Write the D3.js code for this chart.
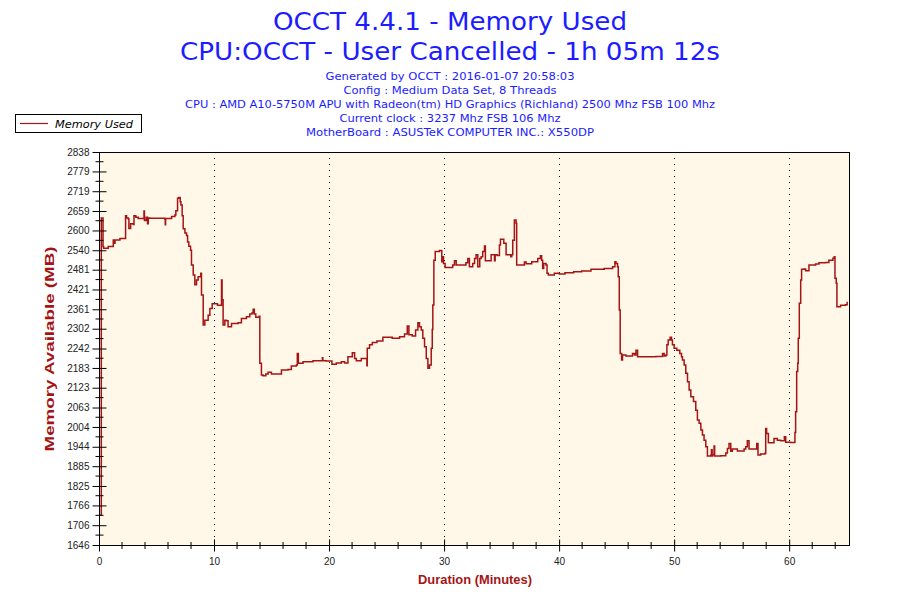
<!DOCTYPE html>
<html><head><meta charset="utf-8">
<script src="https://cdn.jsdelivr.net/npm/d3@7"></script>
<style>body{margin:0;background:#fff}svg{display:block}</style>
</head><body><svg id="c" width="900" height="600"></svg>
<script>
const titleLines = ["OCCT 4.4.1 - Memory Used", "CPU:OCCT - User Cancelled - 1h 05m 12s"];
const subtitleLines = [
  "Generated by OCCT : 2016-01-07 20:58:03",
  "Config : Medium Data Set, 8 Threads",
  "CPU : AMD A10-5750M APU with Radeon(tm) HD Graphics (Richland) 2500 Mhz FSB 100 Mhz",
  "Current clock : 3237 Mhz FSB 106 Mhz",
  "MotherBoard : ASUSTeK COMPUTER INC.: X550DP"
];
const seriesName = "Memory Used";
const yTickLabels = [1646,1706,1766,1825,1885,1944,2004,2063,2123,2183,2242,2302,2361,2421,2481,2540,2600,2659,2719,2779,2838];
const xTickLabels = [0,10,20,30,40,50,60];
const xMax = 65.2;
const minutes = [0.1,0.2,0.35,0.40,0.75,0.80,1.16,1.24,1.30,1.39,1.74,1.82,2.26,2.31,2.40,2.55,2.60,2.75,2.98,3.04,3.20,3.41,3.85,3.91,3.95,4.10,4.22,4.28,4.43,5.44,5.73,5.76,5.79,6.31,6.60,6.68,6.83,6.94,7.06,7.12,7.23,7.32,7.47,7.61,7.70,7.81,7.96,8.04,8.19,8.33,8.48,8.62,8.85,8.91,9.06,9.20,9.49,9.64,9.84,10.22,10.30,10.59,10.65,10.70,10.79,10.94,11.08,11.22,11.52,12.09,12.38,12.82,13.11,13.30,13.40,13.50,13.63,13.92,13.98,14.05,14.12,14.26,14.50,14.70,14.99,15.71,15.86,16.43,16.72,17.16,17.24,17.33,17.74,18.60,19.38,19.42,19.46,19.76,20.20,20.25,20.63,21.07,21.35,21.64,22.02,22.22,22.37,22.80,23.27,23.29,23.32,23.52,23.76,24.16,24.68,25.49,26.13,26.56,26.80,26.94,27.23,27.52,27.72,27.86,28.01,28.15,28.30,28.45,28.59,28.73,28.88,28.97,29.02,29.11,29.23,29.60,29.75,29.80,29.88,29.95,30.09,30.61,30.75,30.90,31.05,31.77,31.90,32.06,32.20,32.49,32.65,32.78,32.93,33.10,33.22,33.36,33.51,33.59,33.80,34.09,34.38,34.44,34.61,34.81,34.90,35.19,35.39,35.68,35.80,35.88,35.97,36.11,36.26,36.31,36.69,36.98,37.13,37.62,38.14,38.37,38.48,38.57,38.66,38.86,38.95,39.06,39.58,40.02,40.51,41.26,41.96,42.77,43.92,44.65,44.85,44.94,45.08,45.14,45.23,45.31,45.43,45.51,45.81,46.38,46.55,46.68,46.82,47.40,48.41,48.99,49.13,49.28,49.37,49.48,49.65,49.77,49.85,50.00,50.23,50.49,50.64,50.72,50.87,51.01,51.16,51.30,51.45,51.68,51.88,52.02,52.17,52.32,52.46,52.60,52.75,52.89,53.18,53.24,53.30,53.35,53.47,53.52,54.05,54.49,54.63,54.77,54.92,55.06,55.50,55.93,56.08,56.22,56.36,56.51,56.88,57.18,57.29,57.52,57.81,57.90,57.96,58.04,58.19,58.68,58.97,59.26,59.58,59.70,60.13,60.42,60.50,60.56,60.65,60.74,60.79,60.88,61.00,61.08,61.30,61.43,61.72,62.30,62.59,63.17,63.45,63.80,63.92,63.98,64.09,64.15,64.47,64.90,65.04];
const memoryMB = [1737,2638,2551,2546,2546,2551,2551,2571,2561,2571,2571,2576,2576,2645,2638,2635,2606,2620,2618,2645,2640,2636,2636,2659,2630,2640,2620,2638,2637,2637,2634,2617,2636,2642,2647,2660,2698,2700,2687,2677,2645,2605,2592,2585,2565,2552,2540,2495,2465,2435,2450,2460,2470,2404,2313,2328,2343,2363,2378,2378,2373,2373,2450,2390,2313,2328,2326,2308,2318,2320,2333,2338,2347,2350,2361,2347,2337,2340,2197,2197,2162,2159,2165,2170,2165,2165,2177,2178,2189,2192,2227,2197,2202,2205,2205,2214,2205,2204,2204,2194,2198,2202,2198,2217,2229,2212,2205,2212,2212,2190,2243,2253,2260,2265,2276,2273,2278,2286,2310,2284,2280,2298,2320,2308,2298,2273,2247,2212,2182,2192,2243,2300,2374,2510,2536,2539,2539,2505,2520,2500,2488,2488,2495,2508,2495,2495,2502,2515,2490,2500,2515,2526,2490,2515,2520,2536,2553,2508,2508,2526,2508,2526,2524,2556,2573,2561,2526,2526,2520,2526,2570,2632,2622,2495,2495,2504,2499,2505,2515,2523,2510,2485,2500,2495,2470,2465,2470,2468,2472,2475,2477,2482,2485,2490,2505,2500,2490,2460,2359,2227,2207,2222,2219,2227,2222,2237,2217,2217,2218,2227,2219,2222,2253,2268,2276,2268,2253,2243,2237,2227,2217,2207,2192,2167,2141,2116,2096,2081,2055,2025,2015,1995,1980,1964,1944,1916,1918,1935,1916,1920,1946,1916,1917,1925,1939,1954,1930,1937,1931,1931,1937,1944,1962,1937,1937,1954,1919,1922,1922,1924,1999,1984,1956,1969,1964,1962,1974,1958,1957,1957,1987,2050,2172,2197,2273,2379,2450,2482,2483,2478,2495,2498,2502,2503,2510,2516,2520,2455,2440,2369,2373,2375,2384];

const svg = d3.select("#c");
const L = 99, R = 849, T = 152, B = 545;
const x = d3.scaleLinear().domain([0, xMax]).range([L, R]);
const y = d3.scaleLinear().domain([yTickLabels[0], yTickLabels[yTickLabels.length-1]]).range([B, T]);
const blue = "#1c1cff", red = "#a51414";

// titles
const titleW = [354, 540];
titleLines.forEach((t, i) => {
  svg.append("text").attr("x", 450).attr("y", 30 + i*30).attr("text-anchor", "middle")
    .attr("font-family", "DejaVu Sans, Verdana, sans-serif").attr("font-size", 25).attr("fill", blue)
    .attr("textLength", titleW[i]).attr("lengthAdjust", "spacingAndGlyphs").text(t);
});
const subW = [249, 213, 530, 221, 288];
subtitleLines.forEach((t, i) => {
  svg.append("text").attr("x", 450).attr("y", 80 + i*14).attr("text-anchor", "middle")
    .attr("font-family", "DejaVu Sans, Verdana, sans-serif").attr("font-size", 11).attr("fill", blue)
    .attr("textLength", subW[i]).attr("lengthAdjust", "spacingAndGlyphs").text(t);
});

// legend
svg.append("rect").attr("x", 15.5).attr("y", 114.5).attr("width", 126).attr("height", 18)
  .attr("fill", "#fff").attr("stroke", "#000").attr("stroke-width", 1);
svg.append("line").attr("x1", 20).attr("x2", 48).attr("y1", 123.5).attr("y2", 123.5)
  .attr("stroke", red).attr("stroke-width", 1.2);
svg.append("text").attr("x", 55).attr("y", 127.5).attr("font-family", "DejaVu Sans, Verdana, sans-serif")
  .attr("font-size", 11).attr("font-style", "italic").attr("fill", "#000")
  .attr("textLength", 78).attr("lengthAdjust", "spacingAndGlyphs").text(seriesName);

// plot background
svg.append("rect").attr("x", L).attr("y", T).attr("width", R - L).attr("height", B - T).attr("fill", "#fff8e8");

// vertical dotted grid
svg.append("g").selectAll("line").data(xTickLabels.filter(d => d > 0)).join("line")
  .attr("x1", d => Math.round(x(d)) + 0.5).attr("x2", d => Math.round(x(d)) + 0.5)
  .attr("y1", T).attr("y2", B).attr("stroke", "#000").attr("stroke-width", 1).attr("stroke-dasharray", "1,5");

// frame
svg.append("rect").attr("x", L + 0.5).attr("y", T + 0.5).attr("width", R - L).attr("height", B - T)
  .attr("fill", "none").attr("stroke", "#000").attr("stroke-width", 1);

// data line (stepped, as the original logger draws it)
const pts = minutes.map((m, i) => [m, memoryMB[i]]);
svg.append("path").datum(pts).attr("fill", "none").attr("stroke", red).attr("stroke-width", 1.5)
  .attr("d", d3.line().x(d => x(d[0])).y(d => y(d[1])).curve(d3.curveStepAfter));

// y axis with crossing ticks
const yAxis = d3.axisLeft(y).tickValues(yTickLabels).tickFormat(d3.format("d")).tickSize(0).tickPadding(10);
const gy = svg.append("g").attr("transform", `translate(${L + 0.5},0)`).call(yAxis);
gy.select(".domain").remove();
gy.selectAll("text").attr("font-family", "Liberation Sans, Arial, sans-serif").attr("font-size", 10).attr("fill", "#222");
gy.selectAll(".tick").append("line").attr("x1", -7).attr("x2", 7).attr("stroke", "#000");
const yMinor = d3.pairs(yTickLabels).map(p => (p[0] + p[1]) / 2);
svg.append("g").selectAll("line").data(yMinor).join("line")
  .attr("x1", L - 3.5).attr("x2", L + 4.5).attr("y1", d => y(d)).attr("y2", d => y(d)).attr("stroke", "#000");

// x axis
const xAxis = d3.axisBottom(x).tickValues(xTickLabels).tickFormat(d3.format("d")).tickSize(0).tickPadding(12);
const gx = svg.append("g").attr("transform", `translate(0,${B + 0.5})`).call(xAxis);
gx.select(".domain").remove();
gx.selectAll("text").attr("font-family", "Liberation Sans, Arial, sans-serif").attr("font-size", 10).attr("fill", "#222");
gx.selectAll(".tick").append("line").attr("y1", -6).attr("y2", 6).attr("stroke", "#000");
const xMinor = d3.range(2, xMax, 2).filter(d => d % 10 !== 0);
svg.append("g").selectAll("line").data(xMinor).join("line")
  .attr("x1", d => x(d)).attr("x2", d => x(d)).attr("y1", B - 3).attr("y2", B + 4).attr("stroke", "#000");

// axis titles
svg.append("text").attr("transform", "translate(54,349) rotate(-90)").attr("text-anchor", "middle")
  .attr("font-family", "Liberation Sans, Arial, sans-serif").attr("font-size", 12).attr("font-weight", "bold")
  .attr("fill", red).attr("textLength", 205).attr("lengthAdjust", "spacingAndGlyphs").text("Memory Available (MB)");
svg.append("text").attr("x", 475).attr("y", 584).attr("text-anchor", "middle")
  .attr("font-family", "Liberation Sans, Arial, sans-serif").attr("font-size", 12).attr("font-weight", "bold")
  .attr("fill", red).attr("textLength", 114).attr("lengthAdjust", "spacingAndGlyphs").text("Duration (Minutes)");
</script></body></html>
